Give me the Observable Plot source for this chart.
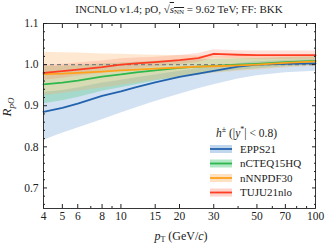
<!DOCTYPE html>
<html><head><meta charset="utf-8">
<script src="https://cdn.jsdelivr.net/npm/d3@7"></script>
<script src="https://cdn.jsdelivr.net/npm/@observablehq/plot@0.6"></script>
<style>
body{margin:0;background:#fff;}
#title{height:18px;line-height:18px;font-family:"Liberation Serif",serif;font-size:11px;color:#222;text-align:center;padding-left:29px;width:300px;white-space:nowrap;}
.ov{text-decoration:overline;}
sub{font-size:7px;vertical-align:-1px;line-height:0;}
</style></head>
<body>
<div id="title">INCNLO v1.4; pO, √<span class="ov"><i>s</i><sub>NN</sub></span> = 9.62 TeV; FF: BKK</div>
<div id="chart"></div>
<script>
const pT = [4,5,6,8,10,12,15,20,25,30,40,50,70,100];
const names = ["EPPS21","nCTEQ15HQ","nNNPDF30","TUJU21nlo"];
const lineColors = ["#2363ad","#2db84d","#ffa11a","#ff3d22"];
const bandColors = ["#4a8ccc","#34c26a","#ffae5a","#ff6a52"];
const bandOpacity = [0.25,0.28,0.28,0.2];

const eppsC  = [0.885,0.895,0.905,0.924,0.935,0.945,0.957,0.970,0.978,0.985,0.995,1.000,1.002,1.003];
const eppsLo = [0.816,0.833,0.846,0.866,0.882,0.895,0.910,0.928,0.941,0.951,0.965,0.973,0.980,0.984];
const eppsHi = [0.932,0.937,0.943,0.955,0.962,0.968,0.975,0.984,0.990,0.995,1.003,1.007,1.010,1.012];

const ncteqC  = [0.952,0.956,0.961,0.971,0.976,0.981,0.986,0.992,0.995,0.997,1.000,1.002,1.006,1.009];
const ncteqLo = [0.905,0.912,0.920,0.935,0.944,0.951,0.960,0.969,0.975,0.980,0.986,0.990,0.995,0.999];
const ncteqHi = [0.995,0.996,0.998,1.002,1.004,1.006,1.008,1.011,1.012,1.013,1.014,1.015,1.017,1.019];

const nnpdfC  = [0.977,0.978,0.980,0.983,0.986,0.988,0.990,0.993,0.995,0.996,0.998,1.000,1.004,1.008];
const nnpdfLo = [0.925,0.930,0.935,0.943,0.950,0.955,0.962,0.970,0.975,0.979,0.984,0.987,0.992,0.996];
const nnpdfHi = [1.030,1.029,1.028,1.026,1.025,1.024,1.023,1.022,1.021,1.021,1.020,1.020,1.021,1.022];

const tujuC  = [0.980,0.984,0.988,0.994,1.000,1.003,1.006,1.011,1.016,1.026,1.024,1.023,1.023,1.023];
const tujuLo = [0.962,0.967,0.972,0.979,0.986,0.990,0.994,1.000,1.005,1.016,1.014,1.013,1.013,1.013];
const tujuHi = [0.998,1.001,1.004,1.009,1.014,1.016,1.018,1.022,1.027,1.036,1.034,1.033,1.033,1.033];

const xTickLabels = [4,5,6,8,10,15,20,30,50,70,100];
const xMinor = [7,9,40,60,80,90];
const yTickLabels = [0.7,0.8,0.9,1.0,1.1];
const yMinor = [0.66,0.68,0.72,0.74,0.76,0.78,0.82,0.84,0.86,0.88,0.92,0.94,0.96,0.98,1.02,1.04,1.06,1.08];

const seriesC = [eppsC, ncteqC, nnpdfC, tujuC];
const seriesLo = [eppsLo, ncteqLo, nnpdfLo, tujuLo];
const seriesHi = [eppsHi, ncteqHi, nnpdfHi, tujuHi];

const rows = names.map((n, s) => pT.map((x, i) => ({name: n, pT: x, c: seriesC[s][i], lo: seriesLo[s][i], hi: seriesHi[s][i]})));

const titleH = 18;
const W = 329, H = 247 - titleH;
const blank = () => "";
const ink = "#222";

const chart = Plot.plot({
  width: W, height: H,
  marginTop: 5, marginBottom: 39, marginLeft: 43, marginRight: 14,
  style: {fontFamily: '"Liberation Serif", serif', fontSize: "11px", color: ink, background: "#fff"},
  x: {type: "log", domain: [4, 100]},
  y: {domain: [0.65, 1.1]},
  marks: [
    ...rows.map((r, s) => Plot.areaY(r, {x: "pT", y1: "lo", y2: "hi", fill: bandColors[s], fillOpacity: bandOpacity[s]})),
    Plot.ruleY([1], {stroke: "#808080", strokeWidth: 1.4, strokeDasharray: "4,3"}),
    ...rows.map((r, s) => Plot.line(r, {x: "pT", y: "c", stroke: lineColors[s], strokeWidth: 1.8})),
    Plot.frame({stroke: ink, strokeWidth: 0.9}),
    Plot.text(xTickLabels, {x: d => d, frameAnchor: "bottom", dy: 11, text: d => String(d), fill: ink, fontSize: 11.5}),
    Plot.text(yTickLabels, {y: d => d, frameAnchor: "left", dx: -5, textAnchor: "end", text: d => d3.format(".1f")(d), fill: ink, fontSize: 11.5}),
    Plot.axisX(xTickLabels, {anchor: "bottom", tickSize: -4, tickFormat: blank, label: null, stroke: ink}),
    Plot.axisX(xTickLabels, {anchor: "top", tickSize: -4, tickFormat: blank, label: null, stroke: ink}),
    Plot.axisX(xMinor, {anchor: "bottom", tickSize: -2, tickFormat: blank, label: null, stroke: ink}),
    Plot.axisX(xMinor, {anchor: "top", tickSize: -2, tickFormat: blank, label: null, stroke: ink}),
    Plot.axisY(yTickLabels, {anchor: "left", tickSize: -4, tickFormat: blank, label: null, stroke: ink}),
    Plot.axisY(yTickLabels, {anchor: "right", tickSize: -4, tickFormat: blank, label: null, stroke: ink}),
    Plot.axisY(yMinor, {anchor: "left", tickSize: -2, tickFormat: blank, label: null, stroke: ink}),
    Plot.axisY(yMinor, {anchor: "right", tickSize: -2, tickFormat: blank, label: null, stroke: ink})
  ]
});
document.getElementById("chart").appendChild(chart);

const svg = d3.select(chart);
const serif = '"Liberation Serif", serif';
// y label
const yl = svg.append("text").attr("transform", `translate(11,${107 - titleH}) rotate(-90)`)
  .attr("text-anchor", "middle").attr("font-family", serif).attr("fill", ink);
yl.append("tspan").attr("font-size", 13).attr("font-style", "italic").text("R");
yl.append("tspan").attr("font-size", 9).attr("font-style", "italic").attr("dy", 3).text("pO");
// x label
const xl = svg.append("text").attr("x", 181).attr("y", 240 - titleH)
  .attr("text-anchor", "middle").attr("font-family", serif).attr("fill", ink).attr("font-size", 12);
xl.append("tspan").attr("font-style", "italic").text("p");
xl.append("tspan").attr("font-size", 8).attr("dy", 2).text("T");
xl.append("tspan").attr("dy", -2).text(" (GeV/");
xl.append("tspan").attr("font-style", "italic").text("c");
xl.append("tspan").text(")");
// legend header
const lh = svg.append("text").attr("x", 216).attr("y", 137 - titleH)
  .attr("text-anchor", "start").attr("font-family", serif).attr("fill", ink).attr("font-size", 11.5);
lh.append("tspan").attr("font-style", "italic").text("h");
lh.append("tspan").attr("font-size", 8).attr("dy", -5).text("±");
lh.append("tspan").attr("dy", 5).text(" (|");
lh.append("tspan").attr("font-style", "italic").text("y");
lh.append("tspan").attr("font-size", 8).attr("dy", -5).text("*");
lh.append("tspan").attr("dy", 5).text("| < 0.8)");
// legend entries
const rowY = [149, 163.5, 178, 192.5];
names.forEach((n, s) => {
  const y = rowY[s] - titleH;
  svg.append("rect").attr("x", 210).attr("y", y - 4).attr("width", 22).attr("height", 8)
    .attr("fill", bandColors[s]).attr("fill-opacity", bandOpacity[s] + 0.1);
  svg.append("line").attr("x1", 210).attr("x2", 232).attr("y1", y).attr("y2", y)
    .attr("stroke", lineColors[s]).attr("stroke-width", 1.8);
  svg.append("text").attr("x", 240).attr("y", y).attr("dy", "0.35em").attr("text-anchor", "start")
    .attr("font-family", serif).attr("font-size", 11).attr("fill", ink).text(n);
});
</script>
</body></html>
